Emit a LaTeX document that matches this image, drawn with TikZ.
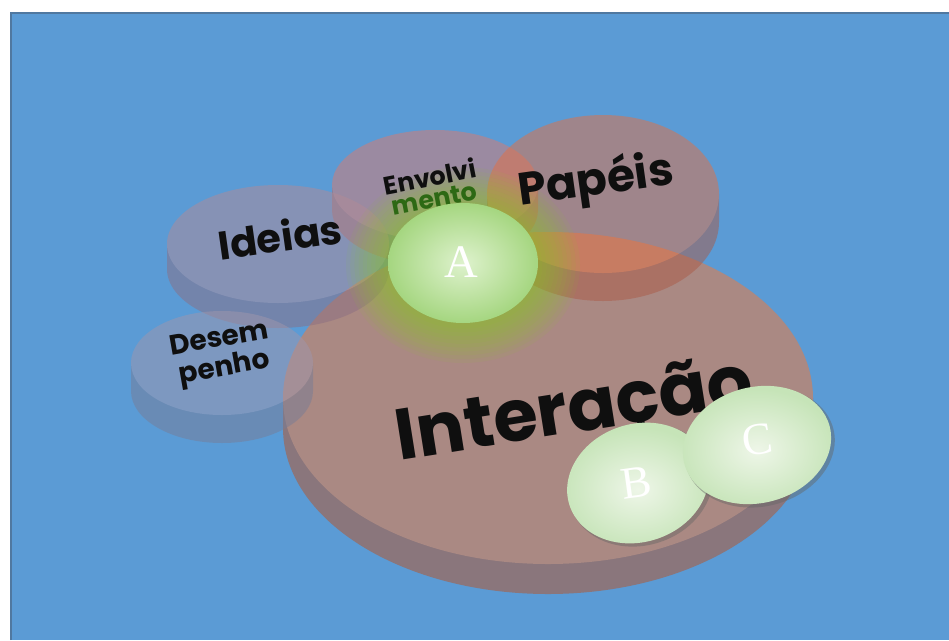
\documentclass[tikz,border=0pt]{standalone}
\usepackage{fontspec}
\setmainfont{Poppins}
\newfontfamily\letterfont{Liberation Serif}
\definecolor{bgblue}{RGB}{91,155,213}
\definecolor{frameline}{RGB}{80,120,160}
\definecolor{intertop}{RGB}{170,137,131}
\definecolor{interside}{RGB}{138,118,124}
\definecolor{paptop}{RGB}{228,112,66}
\definecolor{papside}{RGB}{170,90,70}
\definecolor{envtop}{RGB}{220,122,110}
\definecolor{envside}{RGB}{170,100,95}
\definecolor{idetop}{RGB}{178,138,150}
\definecolor{ideside}{RGB}{140,110,130}
\definecolor{destop}{RGB}{160,150,172}
\definecolor{desside}{RGB}{120,125,150}
\definecolor{glowgreen}{RGB}{140,205,35}
\definecolor{ainner}{RGB}{222,242,205}
\definecolor{aouter}{RGB}{165,214,128}
\definecolor{bcinner}{RGB}{238,246,232}
\definecolor{bcouter}{RGB}{198,228,184}
\definecolor{mentogreen}{RGB}{45,105,20}
\definecolor{labelblack}{RGB}{15,15,15}
\newcommand\mydisc[8]{%
  \begin{scope}[transparency group, opacity=#8]
    \fill[#7] ({#1-#3},{#2}) -- ({#1-#3},{#2+#5})
      arc[start angle=180,end angle=0,x radius=#3,y radius=#4]
      -- ({#1+#3},{#2}) -- cycle;
    \fill[#6] (#1,#2) ellipse[x radius=#3,y radius=#4];
  \end{scope}}
\tikzset{
  disclabel/.style={text=labelblack, font=\bfseries, inner sep=0pt, align=center},
  letterlabel/.style={text=white, inner sep=0pt}
}
\begin{document}
\begin{tikzpicture}[x=0.75pt,y=-0.75pt]
  \useasboundingbox (0,0) rectangle (949,640);
  \fill[white] (0,0) rectangle (949,640);
  \fill[bgblue] (11,13) rectangle (949,640);
  \draw[frameline, line width=1pt] (11,640) -- (11,13) -- (949,13);
  % discs
  \mydisc{548}{398}{265}{166}{30}{intertop}{interside}{1}
  \mydisc{435}{185}{103}{55}{25}{envtop}{envside}{0.5}
  \mydisc{603}{194}{116}{79}{28}{paptop}{papside}{0.5}
  \mydisc{278}{244}{111}{59}{25}{idetop}{ideside}{0.5}
  \mydisc{222}{363}{91}{52}{28}{destop}{desside}{0.5}
  % glow around A
  \foreach \k in {1,...,10}
    \fill[glowgreen, opacity=0.075] (463,265) ellipse[x radius={75+4.2*\k}, y radius={60+3.8*\k}];
  % labels
  \node[disclabel, rotate=8, font=\bfseries\fontsize{30}{32}\selectfont] (ideias) at (280,236) {Ideias};
  \node[disclabel, rotate=8, font=\bfseries\fontsize{34}{36}\selectfont] (papeis) at (596,182) {Papéis};
  \node[disclabel, rotate=11, font=\bfseries\fontsize{19}{16}\selectfont] (envolv) at (432,187) {Envolvi\\\textcolor{mentogreen}{mento}};
  \node[disclabel, rotate=10, font=\bfseries\fontsize{21}{22}\selectfont] (desemp) at (222,355) {Desem\\penho};
  \node[disclabel, rotate=9, font=\bfseries\fontsize{54}{56}\selectfont] (inter) at (575,415) {Interação};
  % A
  \shade[inner color=ainner, outer color=aouter] (463,263) ellipse[x radius=75, y radius=60];
  \node[letterlabel, font=\letterfont\fontsize{35}{35}\selectfont] (a) at (461,262) {A};
  % B
  \begin{scope}[rotate around={18:(638,483)}]
    \fill[black!60, opacity=0.45] (640,486) ellipse[x radius=73, y radius=60];
    \shade[inner color=bcinner, outer color=bcouter] (638,483) ellipse[x radius=72, y radius=59];
  \end{scope}
  \node[letterlabel, rotate=8, font=\letterfont\fontsize{34}{34}\selectfont] (b) at (636,483) {B};
  % C
  \begin{scope}[rotate around={14:(757,445)}]
    \fill[black!60, opacity=0.45] (759,448) ellipse[x radius=76, y radius=59];
    \shade[inner color=bcinner, outer color=bcouter] (757,445) ellipse[x radius=75, y radius=58];
  \end{scope}
  \node[letterlabel, rotate=8, font=\letterfont\fontsize{34}{34}\selectfont] (c) at (757,440) {C};
\end{tikzpicture}
\end{document}
